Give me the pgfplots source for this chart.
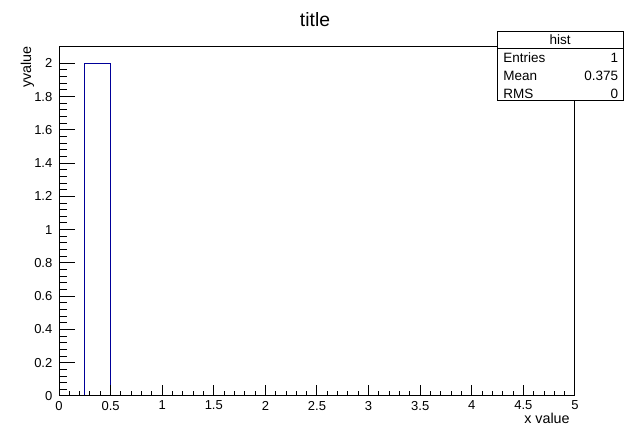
\documentclass[border=0pt]{standalone}
\usepackage{fontspec}
\setmainfont{Liberation Sans}
\usepackage{pgfplots}
\pgfplotsset{compat=1.18}

\definecolor{histline}{RGB}{0,0,153}

% 20 bins of width 0.25 on [0,5]; only one bin is filled
\pgfplotstableread{
x    y
0.00 0
0.25 2
0.50 0
0.75 0
1.00 0
1.25 0
1.50 0
1.75 0
2.00 0
2.25 0
2.50 0
2.75 0
3.00 0
3.25 0
3.50 0
3.75 0
4.00 0
4.25 0
4.50 0
4.75 0
5.00 0
}\histdata

\begin{document}
\begin{tikzpicture}
\useasboundingbox (0,0) rectangle (375pt,254.4pt);

\pgfplotsset{
  frameaxis/.style={
    at={(35.4pt,16.8pt)}, anchor=south west,
    scale only axis, width=309.6pt, height=209.6pt,
    xmin=0, xmax=5, ymin=0, ymax=2.1,
    tick align=inside,
    axis line style={line width=0.6pt},
    every tick/.style={black, line width=0.6pt},
    /pgf/number format/assume math mode=true,
    ticklabel style={font=\fontsize{7.8}{9}\selectfont},
  },
}

\begin{axis}[
  frameaxis,
  axis on top,
  xtick={0,0.5,...,5}, minor x tick num=4,
  ytick={0,0.2,...,2.01}, minor y tick num=4,
  xtick pos=bottom, ytick pos=left,
  major tick length=6.3pt, minor tick length=3.15pt,
  xticklabels={0,0.5,1,1.5,2,2.5,3,3.5,4,4.5,5},
  yticklabels={0,0.2,0.4,0.6,0.8,1,1.2,1.4,1.6,1.8,2},
  xticklabel style={anchor=north, inner sep=0pt, yshift=-2.8pt},
  yticklabel style={anchor=east, inner sep=0pt, xshift=-3.8pt},
  clip=false,
]
\addplot[const plot mark left, histline, line width=0.6pt] table[x=x,y=y] {\histdata};
\end{axis}

% longer ticks on the y axis
\begin{axis}[
  frameaxis,
  hide x axis,
  xtick=\empty,
  ytick={0,0.2,...,2.01}, minor y tick num=4,
  ytick pos=left,
  yticklabels={},
  major tick length=9.3pt, minor tick length=4.6pt,
]
\end{axis}

% title and axis titles
\node[anchor=base, inner sep=0pt, font=\fontsize{11.6}{13}\selectfont] at (189pt,238.4pt) {title};
\node[anchor=base east, inner sep=0pt, font=\fontsize{8.6}{10}\selectfont] at (342pt,0.4pt) {x value};
\node[rotate=90, anchor=base east, inner sep=0pt, font=\fontsize{8.6}{10}\selectfont] at (18.6pt,226.8pt) {yvalue};

% statistics box
\begin{scope}[font=\fontsize{8.1}{10}\selectfont]
\draw[fill=white, line width=0.6pt] (298.2pt,193.8pt) rectangle (373.8pt,235.2pt);
\draw[line width=0.6pt] (298.2pt,225pt) -- (373.8pt,225pt);
\node[anchor=base, inner sep=0pt] at (336pt,227.4pt) {hist};
\node[anchor=base west, inner sep=0pt] at (301.8pt,216.9pt) {Entries};
\node[anchor=base east, inner sep=0pt] at (371.1pt,216.9pt) {1};
\node[anchor=base west, inner sep=0pt] at (301.8pt,206.1pt) {Mean};
\node[anchor=base east, inner sep=0pt] at (371.1pt,206.1pt) {0.375};
\node[anchor=base west, inner sep=0pt] at (301.8pt,195.3pt) {RMS};
\node[anchor=base east, inner sep=0pt] at (371.1pt,195.3pt) {0};
\end{scope}
\end{tikzpicture}
\end{document}
